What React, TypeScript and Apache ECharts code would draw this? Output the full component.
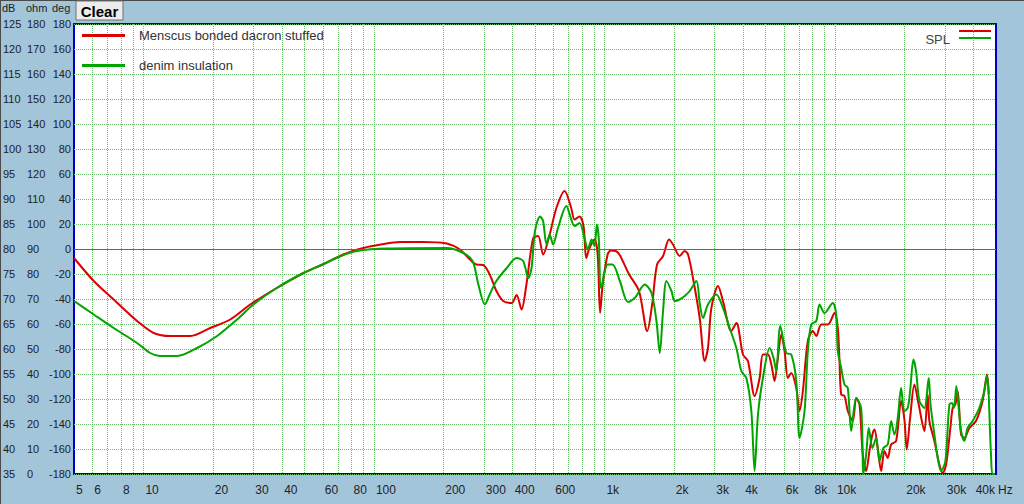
import React, { useEffect, useRef } from "react";
import * as echarts from "echarts";

// ---- Data (frequency in Hz, level in dB) ----
const RED_FREQ = [5, 6.09, 7.43, 9.39, 11.08, 13.1, 16, 19.5, 23.8, 29.1, 37.9, 49.5, 60.6, 73.6, 90, 107, 130, 163, 207, 236, 261, 279, 298, 318, 340, 364, 396, 416, 437, 459, 491, 516, 542, 579, 619, 672, 718, 742, 780, 812, 834, 862, 906, 935, 958, 983, 1033, 1067, 1120, 1162, 1281, 1413, 1534, 1611, 1692, 1797, 1908, 1985, 2122, 2231, 2306, 2423, 2591, 2724, 2814, 2912, 3111, 3269, 3555, 3737, 3992, 4195, 4485, 4715, 4874, 5122, 5299, 5476, 5658, 5853, 6049, 6253, 6468, 6800, 7027, 7262, 7632, 8023, 8301, 8727, 9320, 9963, 10297, 10470, 10650, 11010, 11376, 11960, 12372, 12787, 13213, 13668, 14125, 14545, 14849, 15346, 15874, 16406, 16956, 17541, 18437, 19379, 20028, 20495, 21200, 22130, 23100, 24450, 25265, 25700, 27020, 28400, 29350, 30370, 31700, 32430, 33320, 34090, 35270, 36450, 38310, 40950, 43730, 45710, 46500];
const RED_DB = [78.2, 73.6, 69.9, 65.6, 63.2, 62.6, 62.6, 64.2, 65.9, 68.9, 72.2, 75.2, 77.0, 78.9, 80.2, 80.9, 81.4, 81.4, 81.1, 79.9, 77.9, 76.9, 76.8, 74.9, 71.6, 69.6, 69.2, 70.8, 67.9, 72.9, 82.2, 82.6, 78.9, 82.9, 88.2, 91.6, 88.2, 85.9, 86.5, 84.6, 78.2, 80.2, 81.9, 78.9, 67.2, 72.9, 78.9, 79.7, 79.6, 78.9, 74.9, 71.6, 63.6, 68.9, 76.9, 78.6, 81.9, 80.9, 78.6, 79.6, 78.9, 74.2, 66.2, 57.6, 60.2, 68.2, 72.6, 69.6, 63.6, 65.2, 58.9, 57.6, 50.6, 54.2, 58.9, 58.9, 56.9, 53.6, 58.2, 62.9, 59.6, 54.2, 55.2, 52.2, 47.6, 51.6, 61.6, 63.6, 62.6, 64.9, 64.9, 67.2, 64.2, 57.6, 50.9, 50.6, 47.6, 45.6, 50.2, 48.9, 38.9, 35.6, 39.6, 42.9, 43.9, 40.2, 35.6, 39.6, 38.2, 40.9, 41.6, 49.6, 45.9, 39.9, 46.2, 52.9, 48.9, 43.6, 50.9, 45.6, 41.6, 36.9, 35.2, 36.9, 44.2, 48.2, 48.9, 51.6, 42.9, 42.2, 44.2, 45.6, 49.6, 54.9, 51.0];

const GREEN_FREQ = [5, 6.09, 7.43, 9.39, 10.7, 11.8, 14, 17.1, 20.9, 25.5, 30, 37.9, 49.5, 60.6, 72, 84.5, 113.6, 207, 244, 268, 284, 303, 318, 340, 377, 416, 444, 468, 483, 500, 526, 542, 561, 579, 599, 629, 684, 718, 742, 780, 820, 847, 880, 906, 928, 945, 968, 1033, 1085, 1167, 1267, 1354, 1497, 1601, 1682, 1739, 1797, 1859, 1954, 2020, 2122, 2231, 2345, 2508, 2591, 2678, 2814, 3061, 3269, 3495, 3737, 3928, 4129, 4340, 4485, 4638, 4874, 5211, 5419, 5567, 5795, 6153, 6468, 6800, 7027, 7385, 7632, 7896, 8301, 8580, 9020, 9795, 10132, 10297, 10650, 11010, 11376, 11770, 12372, 13000, 13300, 13668, 14030, 14545, 15100, 15610, 16240, 16956, 17541, 18130, 18740, 19379, 20028, 20700, 21200, 21910, 22500, 23260, 24450, 25530, 26000, 27020, 27930, 28880, 30160, 31380, 32200, 32860, 33650, 34440, 35270, 36450, 37650, 39590, 42320, 44490, 45710, 47560, 48230, 49500];
const GREEN_DB = [69.6, 66.9, 64.2, 61.2, 59.2, 58.6, 58.6, 60.2, 62.6, 65.9, 68.9, 72.2, 75.2, 77.0, 78.6, 79.6, 80.1, 80.2, 79.2, 77.6, 72.9, 68.9, 70.9, 73.6, 76.2, 78.2, 77.6, 74.2, 76.2, 83.6, 86.5, 85.6, 80.9, 82.9, 80.9, 84.2, 88.6, 85.9, 84.6, 85.2, 82.2, 79.9, 81.9, 80.6, 84.9, 82.2, 72.2, 76.9, 76.9, 73.6, 69.4, 70.2, 72.9, 71.2, 65.6, 59.2, 67.6, 73.6, 71.6, 69.6, 69.9, 70.6, 71.6, 73.6, 69.2, 66.2, 68.9, 70.9, 68.2, 64.2, 60.2, 55.6, 54.2, 47.6, 35.6, 46.9, 54.2, 60.2, 58.2, 55.6, 64.6, 59.2, 58.9, 53.6, 42.2, 47.6, 59.6, 64.9, 65.6, 68.9, 67.2, 69.2, 66.9, 59.6, 56.2, 52.9, 52.2, 43.6, 50.2, 48.2, 35.0, 38.9, 44.2, 40.2, 42.2, 37.6, 40.2, 40.9, 45.6, 42.9, 46.2, 52.2, 47.6, 48.2, 51.6, 57.9, 55.6, 49.6, 48.2, 54.2, 48.9, 42.9, 38.2, 35.6, 37.6, 48.9, 49.2, 48.2, 52.6, 48.2, 43.6, 41.6, 44.2, 45.6, 48.2, 51.6, 54.6, 38.9, 35.0, 35.0];

const REFERENCE_DB = 80;

const SERIES_NAMES = ["Menscus bonded dacron stuffed", "denim insulation"];

// ---- Axes ----
const FREQ_MIN = 5;
const FREQ_MAX = 50000;
const FREQ_LABELS = [5, 6, 8, 10, 20, 30, 40, 60, 80, 100, 200, 300, 400, 600, 1000, 2000, 3000, 4000, 6000, 8000, 10000, 20000, 30000, 40000];
const FREQ_LABEL_TEXT = ["5", "6", "8", "10", "20", "30", "40", "60", "80", "100", "200", "300", "400", "600", "1k", "2k", "3k", "4k", "6k", "8k", "10k", "20k", "30k", "40k"];
const DECADES = [1, 10, 100, 1000, 10000];
const MULTIPLIERS = [1, 2, 3, 4, 5, 6, 7, 8, 9];

const DB_RANGE = [35, 125, 5];
const OHM_RANGE = [0, 180, 10];
const DEG_RANGE = [-180, 180, 20];

const FONT = "'Liberation Sans', Arial, sans-serif";
const BG = "#a3c5da";
const GRID_GREEN = "#6cc06c";
const RED = "#dd0000";
const GREEN = "#00a500";

export default function App() {
  const ref = useRef<HTMLDivElement>(null);

  useEffect(() => {
    if (!ref.current) return;
    const chart = echarts.init(ref.current, undefined, { renderer: "svg" });

    const lg = (f: number) => Math.log10(f);
    const gridFreqs: number[] = [];
    DECADES.forEach((d) => MULTIPLIERS.forEach((m) => {
      const f = d * m;
      if (f > FREQ_MIN && f < FREQ_MAX) gridFreqs.push(f);
    }));

    const redData = RED_FREQ.map((f, i) => [lg(f), RED_DB[i]]);
    const greenData = GREEN_FREQ.map((f, i) => [lg(f), GREEN_DB[i]]);

    const labelFor = (v: number) => {
      const i = FREQ_LABELS.findIndex((f) => Math.abs(lg(f) - v) < 1e-6);
      return i >= 0 ? FREQ_LABEL_TEXT[i] : "";
    };

    const yBase = {
      type: "value" as const,
      position: "left" as const,
      offset: 0,
      axisLine: { show: false },
      axisTick: { show: false },
      splitLine: { show: false },
    };
    const yLabel = { fontSize: 11, color: "#222", fontFamily: FONT };

    chart.setOption({
      animation: false,
      backgroundColor: BG,
      textStyle: { fontFamily: FONT },
      grid: {
        left: 73,
        top: 24,
        width: 923,
        height: 450,
        show: true,
        backgroundColor: "#ffffff",
        borderColor: "#0000cc",
        borderWidth: 2,
        containLabel: false,
      },
      legend: {
        data: SERIES_NAMES,
        orient: "vertical",
        left: 82,
        top: 29,
        padding: 0,
        icon: "rect",
        itemWidth: 43,
        itemHeight: 3,
        itemGap: 17,
        selectedMode: false,
        textStyle: { fontSize: 13, color: "#333", fontFamily: FONT, padding: [0, 0, 0, 9] },
      },
      xAxis: {
        type: "value",
        min: lg(FREQ_MIN),
        max: lg(FREQ_MAX),
        axisLine: { show: false },
        axisTick: { show: false, customValues: gridFreqs.map(lg) },
        splitLine: { show: true, lineStyle: { color: GRID_GREEN, width: 1, type: [1, 1] } },
        axisLabel: {
          customValues: FREQ_LABELS.map(lg),
          formatter: labelFor,
          align: "left",
          margin: 10,
          fontSize: 12,
          color: "#222",
          fontFamily: FONT,
          padding: [0, 0, 0, 2],
        },
      },
      yAxis: [
        {
          ...yBase,
          min: DB_RANGE[0],
          max: DB_RANGE[1],
          interval: DB_RANGE[2],
          splitLine: { show: true, lineStyle: { color: GRID_GREEN, width: 1, type: [1, 1] } },
          axisLabel: { ...yLabel, align: "left", margin: 71 },
        },
        {
          ...yBase,
          min: OHM_RANGE[0],
          max: OHM_RANGE[1],
          interval: OHM_RANGE[2],
          axisLabel: { ...yLabel, align: "left", margin: 47 },
        },
        {
          ...yBase,
          min: DEG_RANGE[0],
          max: DEG_RANGE[1],
          interval: DEG_RANGE[2],
          axisLabel: { ...yLabel, align: "right", margin: 3 },
        },
      ],
      series: [
        {
          name: SERIES_NAMES[0],
          type: "line",
          data: redData,
          showSymbol: false,
          symbol: "none",
          smooth: 0.3,
          clip: true,
          color: RED,
          lineStyle: { color: RED, width: 2 },
          markLine: {
            silent: true,
            symbol: "none",
            label: { show: false },
            lineStyle: { color: "#e03030", width: 1, type: "solid", opacity: 1 },
            data: [{ yAxis: REFERENCE_DB }],
          },
        },
        {
          name: SERIES_NAMES[1],
          type: "line",
          data: greenData,
          showSymbol: false,
          symbol: "none",
          smooth: 0.3,
          clip: true,
          color: GREEN,
          lineStyle: { color: GREEN, width: 2 },
        },
      ],
      graphic: [
        { type: "rect", left: 0, top: 0, shape: { width: 1024, height: 1 }, style: { fill: "#4a4a4a" } },
        { type: "rect", left: 0, top: 0, shape: { width: 1, height: 504 }, style: { fill: "#4a4a4a" } },
        { type: "text", left: 2, top: 2, style: { text: "dB", fontSize: 11, fill: "#222", fontFamily: FONT } },
        { type: "text", left: 26, top: 2, style: { text: "ohm", fontSize: 11, fill: "#222", fontFamily: FONT } },
        { type: "text", left: 52, top: 2, style: { text: "deg", fontSize: 11, fill: "#222", fontFamily: FONT } },
        {
          type: "rect",
          shape: { x: 76, y: 1, width: 47, height: 19 },
          style: { fill: "#ececec", stroke: "#6e6e6e", lineWidth: 1 },
        },
        {
          type: "text",
          x: 99.5,
          y: 11,
          style: { text: "Clear", fontSize: 15, fontWeight: "bold", fill: "#000", fontFamily: FONT, align: "center", verticalAlign: "middle" },
        },
        { type: "text", x: 998, y: 490, style: { text: "Hz", fontSize: 12, fill: "#222", fontFamily: FONT, verticalAlign: "middle" } },
        { type: "text", x: 950, y: 39, style: { text: "SPL", fontSize: 13, fill: "#444", fontFamily: FONT, align: "right", verticalAlign: "middle" } },
        { type: "line", shape: { x1: 959, y1: 31, x2: 991, y2: 31 }, style: { stroke: RED, lineWidth: 2 } },
        { type: "line", shape: { x1: 959, y1: 38, x2: 991, y2: 38 }, style: { stroke: GREEN, lineWidth: 2 } },
      ],
    });

    return () => chart.dispose();
  }, []);

  return (
    <div
      ref={ref}
      style={{ position: "fixed", left: 0, top: 0, width: 1024, height: 504 }}
    />
  );
}
